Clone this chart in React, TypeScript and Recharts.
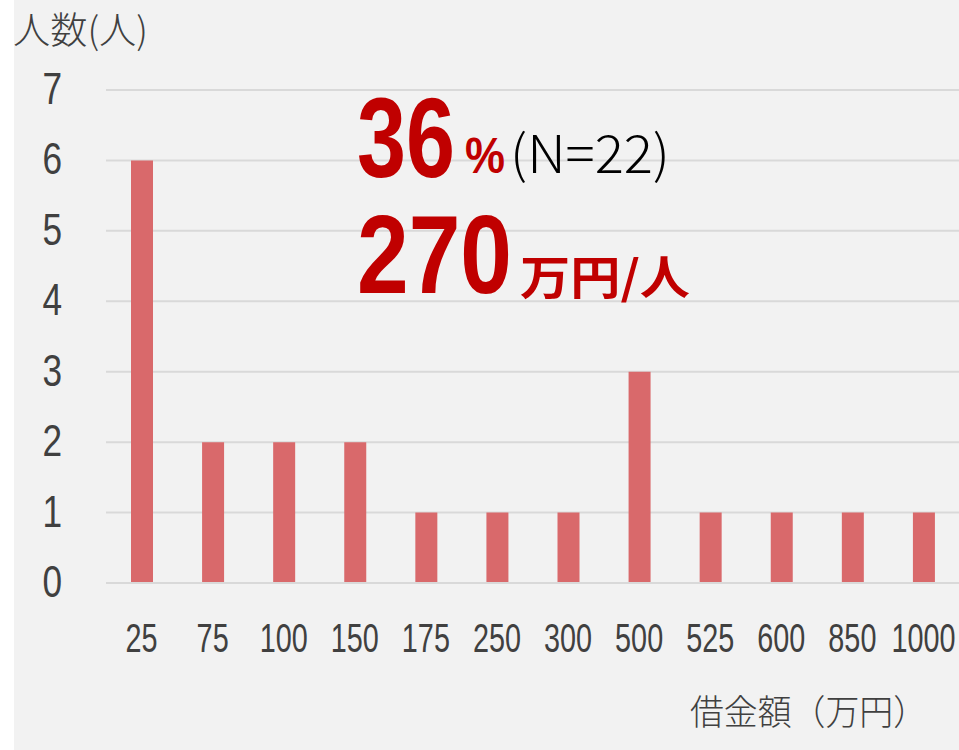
import { BarChart, Bar, XAxis, YAxis, CartesianGrid } from 'recharts';

const amounts = ['25', '75', '100', '150', '175', '250', '300', '500', '525', '600', '850', '1000'];
const people = [6, 2, 2, 2, 1, 1, 1, 3, 1, 1, 1, 1];
const yTicks = [0, 1, 2, 3, 4, 5, 6, 7];

const chartData = amounts.map((amount, i) => ({ amount, people: people[i] }));

const numFont = "'Liberation Sans', Arial, sans-serif";
const jpFont = "'Noto Sans CJK JP', sans-serif";
const gray = '#404040';
const red = '#c00000';

function XTick(props: any) {
  const { x, y, payload } = props;
  return (
    <g transform={`translate(${x},${y})`}>
      <text y={69} transform="scale(0.72,1)" textAnchor="middle" fill={gray} fontSize={40} fontFamily={numFont}>
        {payload.value}
      </text>
    </g>
  );
}

function YTick(props: any) {
  const { x, y, payload } = props;
  return (
    <g transform={`translate(${x},${y})`}>
      <text y={14} transform="scale(0.8,1)" textAnchor="end" fill={gray} fontSize={44} fontFamily={numFont}>
        {payload.value}
      </text>
    </g>
  );
}

export default function App() {
  return (
    <div style={{ position: 'absolute', left: 0, top: 0, width: 959, height: 750, background: '#fff', overflow: 'hidden' }}>
      <div style={{ position: 'absolute', left: 14, top: 0, width: 945, height: 750, background: '#f2f2f2' }} />
      <div style={{ position: 'absolute', left: 0, top: 0 }}>
        <BarChart width={959} height={750} data={chartData} margin={{ top: 90, right: 0, left: 0, bottom: 107 }}>
          <CartesianGrid vertical={false} stroke="#d9d9d9" strokeWidth={2} />
          <XAxis
            dataKey="amount"
            height={60}
            axisLine={{ stroke: '#d9d9d9', strokeWidth: 2 }}
            tickLine={false}
            tickSize={0}
            tickMargin={0}
            interval={0}
            tick={<XTick />}
          />
          <YAxis
            width={106}
            domain={[0, 7]}
            ticks={yTicks}
            axisLine={false}
            tickLine={false}
            tickSize={0}
            tickMargin={44}
            tick={<YTick />}
          />
          <Bar dataKey="people" fill="#d9696b" barSize={22} isAnimationActive={false} />
        </BarChart>
      </div>
      <svg width={959} height={750} style={{ position: 'absolute', left: 0, top: 0, pointerEvents: 'none' }}>
        <text x={13} y={44} fontSize={37} fontWeight={300} fontFamily={jpFont} fill={gray} textLength={135} lengthAdjust="spacingAndGlyphs">
          人数(人)
        </text>
        <text x={690} y={725} fontSize={35} fontWeight={300} fontFamily={jpFont} fill={gray} textLength={237} lengthAdjust="spacingAndGlyphs">
          借金額（万円）
        </text>
        <text x={357} y={177} fontSize={114} fontWeight={700} fontFamily={numFont} fill={red} textLength={98} lengthAdjust="spacingAndGlyphs">
          36
        </text>
        <text x={465} y={173} fontSize={50} fontWeight={700} fontFamily={numFont} fill={red} textLength={40} lengthAdjust="spacingAndGlyphs">
          %
        </text>
        <text x={510} y={173} fontSize={52} fontWeight={300} fontFamily={jpFont} fill="#000" textLength={160} lengthAdjust="spacingAndGlyphs">
          (N=22)
        </text>
        <text x={357} y={293} fontSize={112} fontWeight={700} fontFamily={numFont} fill={red} textLength={155} lengthAdjust="spacingAndGlyphs">
          270
        </text>
        <text x={520} y={294} fontSize={46} fontWeight={700} fontFamily={jpFont} fill={red} textLength={170} lengthAdjust="spacingAndGlyphs">
          万円/人
        </text>
      </svg>
    </div>
  );
}
